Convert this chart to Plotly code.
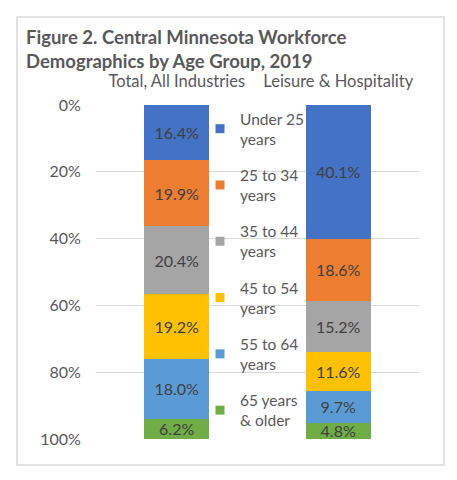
import plotly.graph_objects as go

# age groups, top of the bar first
age_groups = ["Under 25<br>years", "25 to 34<br>years", "35 to 44<br>years",
              "45 to 54<br>years", "55 to 64<br>years", "65 years<br>& older"]
industries = ["Total, All Industries", "Leisure & Hospitality"]
total_all = [16.4, 19.9, 20.4, 19.2, 18.0, 6.2]
leisure_hosp = [40.1, 18.6, 15.2, 11.6, 9.7, 4.8]
colors = ["#4472C4", "#ED7D31", "#A5A5A5", "#FFC000", "#5B9BD5", "#70AD47"]

FONT = "Lato, 'Open Sans', sans-serif"
GREY = "#595959"

fig = go.Figure()
for i, grp in enumerate(age_groups):
    vals = [total_all[i] / 100, leisure_hosp[i] / 100]
    fig.add_trace(go.Bar(
        x=industries, y=vals, name=grp,
        marker=dict(color=colors[i], line=dict(width=0)),
        text=[f"{v*100:.1f}%" for v in vals],
        textposition="inside", insidetextanchor="middle",
        constraintext="none",
        textfont=dict(size=16, color="#404040", family=FONT),
        legendgroup=str(i), showlegend=False,
    ))
    # small square legend key, like Excel's
    fig.add_trace(go.Scatter(
        x=[None], y=[None], mode="markers", name=grp,
        marker=dict(symbol="square", size=9, color=colors[i]),
        legendgroup=str(i), showlegend=True,
    ))

# the page has an 8px body margin, so the figure is drawn 8px smaller
W, H = 449, 472
L, R, T, B = 88, 38, 97, 41
pw, ph = W - L - R, H - T - B

fig.update_layout(
    width=W, height=H,
    barmode="stack", bargap=0.6,
    margin=dict(l=L, r=R, t=T, b=B, autoexpand=False),
    paper_bgcolor="white", plot_bgcolor="white",
    font=dict(family=FONT, color=GREY),
    title=dict(
        text="<b>Figure 2. Central Minnesota Workforce<br>Demographics by Age Group, 2019</b>",
        x=18 / W, xanchor="left", xref="container",
        y=1 - 36 / H, yanchor="top", yref="container",
        font=dict(size=18.5, color=GREY, family=FONT),
    ),
    legend=dict(
        x=(192 - L) / pw, xanchor="left",
        y=(H - B - 94) / ph, yanchor="top",
        bgcolor="rgba(0,0,0,0)",
        font=dict(size=15.5, color=GREY, family=FONT),
        traceorder="grouped", tracegroupgap=13,
        itemwidth=30, maxheight=H,
    ),
    xaxis=dict(
        side="top", showgrid=False, zeroline=False, showline=False,
        ticks="outside", ticklen=10, tickcolor="rgba(0,0,0,0)",
        tickfont=dict(size=16.5, color=GREY, family=FONT),
        automargin=False,
    ),
    yaxis=dict(
        range=[1, 0], tickformat=".0%", dtick=0.2,
        showgrid=True, gridcolor="#D9D9D9", gridwidth=1,
        zeroline=False, showline=False,
        ticks="outside", ticklen=11, tickcolor="rgba(0,0,0,0)",
        tickfont=dict(size=16, color=GREY, family=FONT),
        automargin=False,
    ),
)

# outer chart border
fig.add_shape(
    type="rect", xref="paper", yref="paper",
    x0=(9 - L) / pw, x1=(436 - L) / pw,
    y0=(H - B - 457) / ph, y1=(H - B - 9) / ph,
    line=dict(color="#D9D9D9", width=1.5), layer="below",
)

fig.write_html("out.html")
